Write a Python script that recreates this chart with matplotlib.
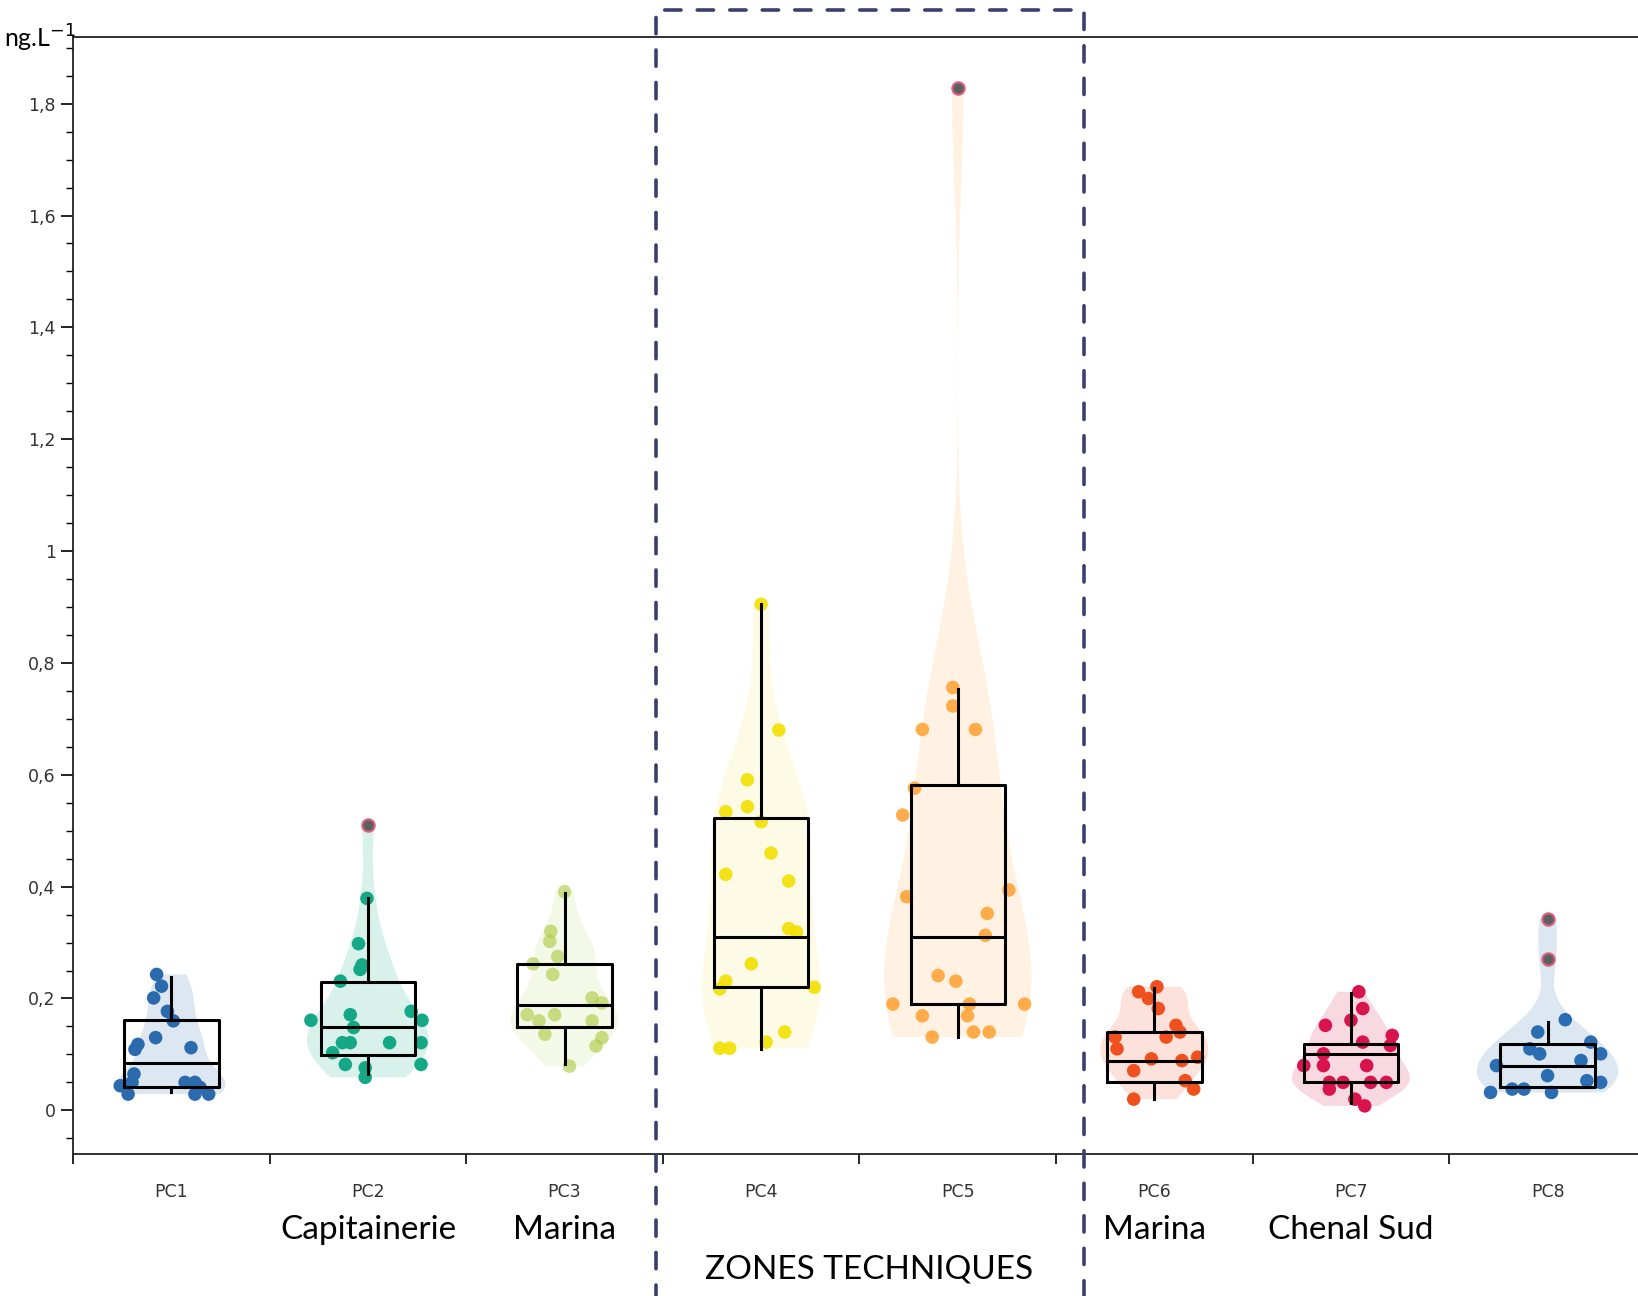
import matplotlib
matplotlib.use("Agg")
import matplotlib.pyplot as plt
from matplotlib.patches import Rectangle
from matplotlib.ticker import FuncFormatter, MultipleLocator, FixedLocator
import numpy as np

# --- Données (ng/L) ---
stations = ['PC1', 'PC2', 'PC3', 'PC4', 'PC5', 'PC6', 'PC7', 'PC8']

pc1 = [0.243, 0.222, 0.201, 0.177, 0.160, 0.130, 0.118, 0.109, 0.112, 0.065,
       0.050, 0.044, 0.029, 0.050, 0.050, 0.041, 0.029, 0.029]
pc2 = [0.379, 0.298, 0.260, 0.252, 0.231, 0.171, 0.148, 0.161, 0.121,
       0.121, 0.121, 0.177, 0.161, 0.121, 0.103, 0.082, 0.076, 0.059, 0.082]
pc3 = [0.391, 0.320, 0.302, 0.275, 0.262, 0.243, 0.201, 0.192, 0.171, 0.171,
       0.160, 0.160, 0.136, 0.130, 0.115, 0.079]
pc4 = [0.905, 0.680, 0.591, 0.543, 0.534, 0.516, 0.460, 0.422, 0.410, 0.325,
       0.319, 0.262, 0.231, 0.217, 0.220, 0.140, 0.122, 0.111, 0.111]
pc5 = [0.756, 0.723, 0.681, 0.681, 0.576, 0.528, 0.394, 0.382, 0.352,
       0.313, 0.241, 0.231, 0.190, 0.190, 0.190, 0.169, 0.169, 0.131, 0.140, 0.140]
pc6 = [0.212, 0.221, 0.200, 0.182, 0.152, 0.140, 0.131, 0.131, 0.110, 0.092,
       0.089, 0.095, 0.071, 0.053, 0.038, 0.020]
pc7 = [0.212, 0.182, 0.161, 0.152, 0.134, 0.122, 0.116, 0.101, 0.080, 0.080,
       0.080, 0.050, 0.050, 0.050, 0.050, 0.038, 0.020, 0.008]
pc8 = [0.162, 0.140, 0.110, 0.101, 0.122, 0.101, 0.089, 0.080,
       0.062, 0.053, 0.050, 0.032, 0.038, 0.038, 0.032]
valeurs = [pc1, pc2, pc3, pc4, pc5, pc6, pc7, pc8]

# valeurs aberrantes (points gris)
aberrants = [[], [0.51], [], [], [1.828], [], [], [0.342, 0.270]]

# décalage horizontal des points
jit1 = [-0.075, -0.05, -0.09, -0.02, 0.01, -0.08, -0.17, -0.185, 0.10, -0.19,
        -0.2, -0.26, -0.22, 0.07, 0.12, 0.146, 0.19, 0.12]
jit2 = [-0.005, -0.048, -0.03, -0.04, -0.14, -0.09, -0.073, -0.29, -0.13,
        -0.09, 0.11, 0.22, 0.275, 0.27, -0.18, -0.115, -0.014, -0.014, 0.27]
jit3 = [0.0, -0.07, -0.075, -0.035, -0.16, -0.06, 0.14, 0.19, -0.05, -0.19,
        -0.13, 0.14, -0.1, 0.19, 0.16, 0.025]
jit4 = [0.0, 0.09, -0.07, -0.07, -0.18, 0.0, 0.05, -0.18, 0.14, 0.14,
        0.18, -0.05, -0.18, -0.21, 0.27, 0.12, 0.025, -0.21, -0.16]
jit5 = [-0.025, -0.025, -0.18, 0.09, -0.22, -0.28, 0.26, -0.26, 0.15,
        0.14, -0.10, -0.01, -0.33, 0.34, 0.06, -0.18, 0.05, -0.13, 0.08, 0.16]
jit6 = [-0.08, 0.013, -0.03, 0.02, 0.11, 0.13, 0.06, -0.2, -0.19, -0.015,
        0.14, 0.22, -0.105, 0.157, 0.2, -0.105]
jit7 = [0.04, 0.06, 0.0, -0.13, 0.21, 0.06, 0.2, -0.14, -0.24, -0.14,
        0.08, -0.11, -0.04, 0.1, 0.18, -0.11, 0.02, 0.07]
jit8 = [0.09, -0.05, -0.09, -0.04, 0.22, 0.27, 0.17, -0.26,
        0.0, 0.2, 0.27, -0.29, -0.18, -0.12, 0.02]
jitters = [jit1, jit2, jit3, jit4, jit5, jit6, jit7, jit8]

# statistiques des boîtes
q1 = [0.042, 0.099, 0.149, 0.221, 0.190, 0.050, 0.050, 0.041]
med = [0.084, 0.149, 0.189, 0.310, 0.310, 0.089, 0.101, 0.080]
q3 = [0.162, 0.229, 0.261, 0.522, 0.581, 0.140, 0.119, 0.119]
wlo = [0.033, 0.065, 0.082, 0.110, 0.131, 0.020, 0.014, 0.041]
whi = [0.239, 0.379, 0.388, 0.905, 0.753, 0.218, 0.209, 0.158]

sous_titres = ['', 'Capitainerie', 'Marina', '', '', 'Marina', 'Chenal Sud', '']

couleurs = ['#2c6aae', '#14a886', '#a9c83c', '#f2e000', '#ff9f2e',
            '#f0501e', '#d9134e', '#2a6db2']
alpha_pts = [1, 1, 0.6, 0.9, 0.85, 1, 1, 1]
alpha_vio = [0.16, 0.16, 0.12, 0.1, 0.13, 0.16, 0.16, 0.16]
largeurs = [0.55, 0.62, 0.55, 0.6, 0.75, 0.55, 0.6, 0.72]

# --- Figure ---
fig = plt.figure(figsize=(16.38, 12.96), dpi=100)
ax = fig.add_axes([0.0446, 0.1096, 0.9554, 0.8622])
pos = np.arange(1, len(stations) + 1)

# violons
for i, v in enumerate(valeurs):
    vp = ax.violinplot([v + aberrants[i]], positions=[pos[i]],
                       widths=largeurs[i], showextrema=False, bw_method=0.45)
    for b in vp['bodies']:
        b.set_facecolor(couleurs[i])
        b.set_edgecolor('none')
        b.set_alpha(alpha_vio[i])
        b.set_zorder(1)

# points
for i, v in enumerate(valeurs):
    ax.scatter(pos[i] + np.array(jitters[i]), v, s=95, color=couleurs[i],
               alpha=alpha_pts[i], edgecolors='none', zorder=2)
    if aberrants[i]:
        ax.scatter([pos[i]] * len(aberrants[i]), aberrants[i], s=80,
                   facecolor='#5b6063', edgecolors='#e0607e', linewidths=1.5,
                   zorder=4)

# boîtes
stats = [dict(med=med[i], q1=q1[i], q3=q3[i], whislo=wlo[i], whishi=whi[i],
              fliers=[]) for i in range(len(stations))]
lp = dict(color='black', linewidth=2.2)
ax.bxp(stats, positions=pos, widths=0.48, showfliers=False, showcaps=False,
       boxprops=lp, medianprops=lp, whiskerprops=lp, manage_ticks=False,
       zorder=3)

# --- Axes ---
ax.set_xlim(0.5, 8.46)
ax.set_ylim(-0.078, 1.92)
ax.spines['right'].set_visible(False)
for s in ['left', 'bottom', 'top']:
    ax.spines[s].set_linewidth(1.3)
    ax.spines[s].set_color('#222222')

ax.yaxis.set_major_locator(MultipleLocator(0.2))
ax.yaxis.set_minor_locator(MultipleLocator(0.05))
ax.yaxis.set_major_formatter(FuncFormatter(
    lambda y, p: f"{round(y, 2):g}".replace('.', ',')))
ax.tick_params(axis='y', which='major', length=8.5, width=1.2, pad=4,
               labelsize=12.5, labelcolor='#333333')
ax.tick_params(axis='y', which='minor', length=5, width=1.0)

ax.xaxis.set_major_locator(FixedLocator(np.arange(0.5, 8.6, 1.0)))
ax.xaxis.set_major_formatter(FuncFormatter(lambda x, p: ''))
ax.xaxis.set_minor_locator(FixedLocator(pos))
ax.set_xticklabels(stations, minor=True)
ax.tick_params(axis='x', which='major', length=7, width=1.2)
ax.tick_params(axis='x', which='minor', length=0, pad=21, labelsize=12.5,
               labelcolor='#333333')

# unité
fig.text(0.0465, 0.9705, 'ng.L$^{-1}$', ha='right', va='center', fontsize=18,
         family='Lato')

# noms de sites
for i, t in enumerate(sous_titres):
    if t:
        ax.text(pos[i], -0.068, t, transform=ax.get_xaxis_transform(),
                ha='center', va='center', fontsize=24, family='Lato')
ax.text(4.55, -0.103, 'ZONES TECHNIQUES', transform=ax.get_xaxis_transform(),
        ha='center', va='center', fontsize=24, family='Lato')

# cadre pointillé des zones techniques
cadre = Rectangle((0.4005, -0.02), 0.2613, 1.012, transform=fig.transFigure,
                  fill=False, edgecolor='#3b3f6e', linewidth=2.6,
                  linestyle=(0, (4.5, 4.5)), capstyle='round', clip_on=False,
                  zorder=10)
fig.add_artist(cadre)

fig.savefig('out.png', dpi=100)
